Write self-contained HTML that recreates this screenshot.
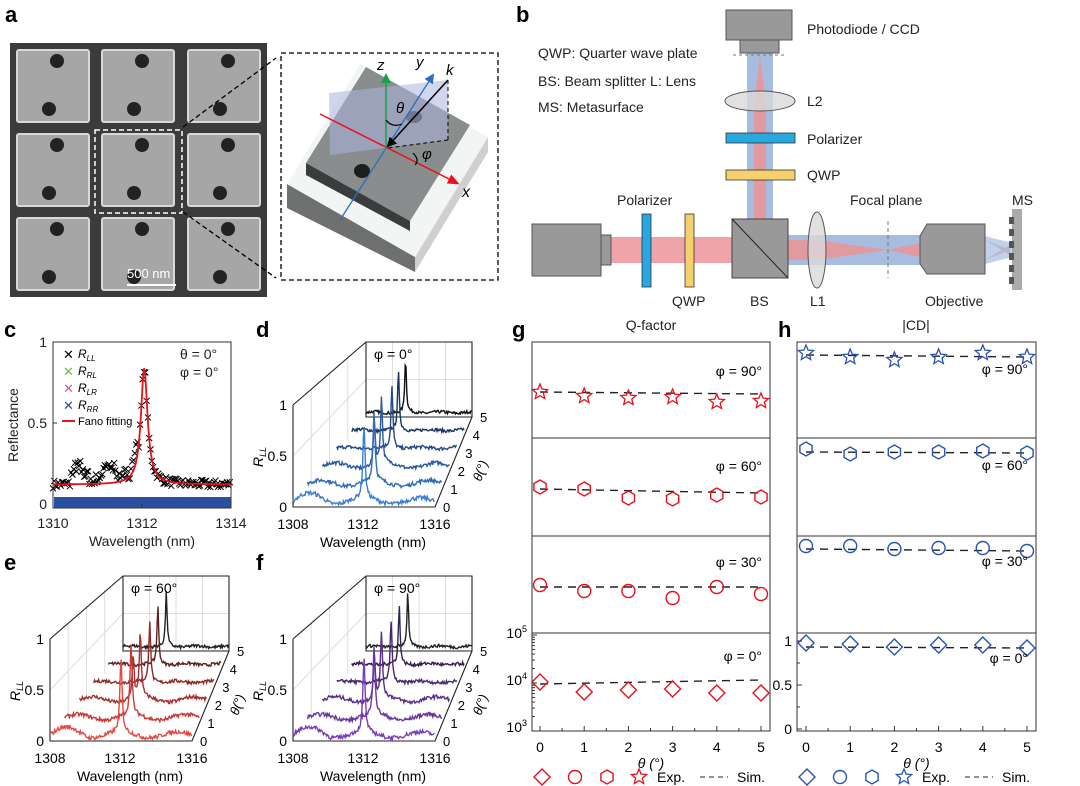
<!DOCTYPE html>
<html><head><meta charset="utf-8">
<style>
html,body{margin:0;padding:0;background:#fff;}
svg{display:block;font-family:"Liberation Sans",Arial,sans-serif;}
.L{font-weight:bold;font-size:22px;}
.t{font-size:14px;fill:#222;}
.tk{font-size:14px;fill:#222;}
</style></head>
<body>
<svg id="s" width="1080" height="786" viewBox="0 0 1080 786" xmlns="http://www.w3.org/2000/svg">
<defs>
<marker id="arR" markerWidth="12" markerHeight="10" refX="9" refY="5" orient="auto" markerUnits="userSpaceOnUse"><path d="M0,0 L12,5 L0,10z" fill="#e8101a"/></marker>
<marker id="arG" markerWidth="10" markerHeight="10" refX="8" refY="5" orient="auto" markerUnits="userSpaceOnUse"><path d="M0,0 L10,5 L0,10z" fill="#1aa04a"/></marker>
<marker id="arB" markerWidth="10" markerHeight="10" refX="8" refY="5" orient="auto" markerUnits="userSpaceOnUse"><path d="M0,0 L10,5 L0,10z" fill="#2a6fc0"/></marker>
<marker id="arK" markerWidth="10" markerHeight="10" refX="8" refY="5" orient="auto" markerUnits="userSpaceOnUse"><path d="M0,0 L10,5 L0,10z" fill="#000"/></marker>
</defs>

<text class="L" x="5" y="22">a</text>
<text class="L" x="516" y="22">b</text>
<text class="L" x="4" y="337">c</text>
<text class="L" x="256" y="337">d</text>
<text class="L" x="4" y="570">e</text>
<text class="L" x="256" y="570">f</text>
<text class="L" x="512" y="337">g</text>
<text class="L" x="778" y="337">h</text>

<rect x="10" y="43" width="257" height="254" fill="#3b3b3b"/>
<g id="sem"></g>
<rect x="95" y="130" width="87" height="83" fill="none" stroke="#fff" stroke-width="1.5" stroke-dasharray="5,3"/>
<line x1="127" y1="285" x2="176" y2="285" stroke="#fff" stroke-width="2"/>
<text x="127" y="278" font-size="13" fill="#fff">500 nm</text>
<line x1="183" y1="127" x2="276" y2="58" stroke="#000" stroke-width="1.3" stroke-dasharray="5,3"/>
<line x1="183" y1="212" x2="276" y2="278" stroke="#000" stroke-width="1.3" stroke-dasharray="5,3"/>
<rect x="281" y="53" width="217" height="227" fill="none" stroke="#000" stroke-width="1.3" stroke-dasharray="5,3"/>
<polygon points="287,184 415,257 415,272 287,208" fill="#6e7070"/>
<polygon points="415,257 488,137 488,152 415,272" fill="#cfcfcf"/>
<polygon points="287,184 360,64 488,137 415,257" fill="#f3f5f5"/>
<polygon points="306,163 366,67 470,125 410,221" fill="#8a8d8d"/>
<polygon points="306,163 410,221 410,231 306,175" fill="#3a3d3d"/>
<ellipse cx="414" cy="117" rx="8" ry="6" fill="#2a2a2a"/>
<ellipse cx="362" cy="171" rx="8" ry="7" fill="#1e1e1e"/>
<polygon points="329,93 448,80 448,140 330,155" fill="#a9b4e0" opacity="0.55"/>
<line x1="320" y1="114" x2="457" y2="183" stroke="#e8101a" stroke-width="1.5" marker-end="url(#arR)"/>
<line x1="340" y1="220" x2="433" y2="75" stroke="#2a6fc0" stroke-width="1.3" marker-end="url(#arB)"/>
<line x1="386" y1="148" x2="386" y2="75" stroke="#1aa04a" stroke-width="1.5" marker-end="url(#arG)"/>
<line x1="448" y1="80" x2="388" y2="146" stroke="#000" stroke-width="1.5" marker-end="url(#arK)"/>
<line x1="448" y1="80" x2="448" y2="140" stroke="#000" stroke-width="1" stroke-dasharray="4,3"/>
<line x1="448" y1="140" x2="388" y2="148" stroke="#000" stroke-width="1" stroke-dasharray="4,3"/>
<path d="M386,120 Q392,128 402,124" fill="none" stroke="#000" stroke-width="1.2"/>
<path d="M413,153 Q420,160 415,165" fill="none" stroke="#000" stroke-width="1.2"/>
<text x="377" y="70" font-size="15" font-style="italic">z</text>
<text x="416" y="67" font-size="15" font-style="italic">y</text>
<text x="446" y="75" font-size="15" font-style="italic">k</text>
<text x="396" y="113" font-size="15" font-style="italic">θ</text>
<text x="422" y="159" font-size="15" font-style="italic">φ</text>
<text x="462" y="197" font-size="16" font-style="italic">x</text>

<text class="t" x="538" y="58">QWP: Quarter wave plate</text>
<text class="t" x="538" y="86">BS: Beam splitter  L: Lens</text>
<text class="t" x="538" y="112">MS: Metasurface</text>
<rect x="747" y="53" width="26" height="168" fill="#a7bde0"/>
<rect x="754" y="105" width="12" height="116" fill="#e09aa0"/>
<polygon points="754,105 766,105 760,55" fill="#e09aa0"/>
<rect x="726" y="10" width="66" height="30" fill="#999" stroke="#555"/>
<rect x="740" y="40" width="39" height="13" fill="#999" stroke="#555"/>
<line x1="733" y1="55" x2="786" y2="55" stroke="#777" stroke-dasharray="3,3"/>
<ellipse cx="760" cy="101" rx="35" ry="10" fill="#d9d9d9" fill-opacity="0.8" stroke="#555"/>
<rect x="726" y="133" width="69" height="10" fill="#29a7df" stroke="#333" stroke-width="0.8"/>
<rect x="726" y="170" width="69" height="10" fill="#f5d06d" stroke="#333" stroke-width="0.8"/>
<text class="t" x="807" y="34">Photodiode / CCD</text>
<text class="t" x="807" y="106">L2</text>
<text class="t" x="807" y="144">Polarizer</text>
<text class="t" x="807" y="180">QWP</text>
<rect x="611" y="237" width="121" height="26" fill="#eea4a8"/>
<rect x="788" y="235" width="135" height="30" fill="#a7bde0"/>
<polygon points="788,240 817,240 888,250 817,260 788,260" fill="#e09aa0"/>
<polygon points="888,250 920,243 920,257" fill="#e09aa0"/>
<polygon points="985,240 1010,250 985,260 1010,245 1010,255" fill="#e8a0a8"/>
<polygon points="985,236 1012,243 1012,257 985,264" fill="#a7bde0" opacity="0.7"/>
<rect x="532" y="224" width="69" height="52" fill="#999" stroke="#555"/>
<rect x="601" y="235" width="10" height="30" fill="#999" stroke="#555"/>
<rect x="642" y="214" width="9" height="73" fill="#29a7df" stroke="#333" stroke-width="0.8"/>
<rect x="685" y="214" width="9" height="73" fill="#f5d06d" stroke="#333" stroke-width="0.8"/>
<rect x="732" y="219" width="56" height="59" fill="#999" stroke="#444"/>
<line x1="732" y1="219" x2="788" y2="278" stroke="#222"/>
<ellipse cx="817" cy="250" rx="9" ry="38" fill="#d9d9d9" fill-opacity="0.8" stroke="#555"/>
<line x1="888" y1="221" x2="888" y2="278" stroke="#777" stroke-dasharray="4,3"/>
<polygon points="920,236 927,224 985,224 985,274 927,274 920,264" fill="#999" stroke="#555"/>
<rect x="1012" y="209" width="10" height="81" fill="#aaa"/>
<g fill="#555"><rect x="1009" y="217" width="5" height="7"/><rect x="1009" y="229" width="5" height="7"/><rect x="1009" y="241" width="5" height="7"/><rect x="1009" y="253" width="5" height="7"/><rect x="1009" y="265" width="5" height="7"/><rect x="1009" y="277" width="5" height="7"/></g>
<text class="t" x="617" y="205">Polarizer</text>
<text class="t" x="850" y="205">Focal plane</text>
<text class="t" x="1012" y="205">MS</text>
<text class="t" x="672" y="306">QWP</text>
<text class="t" x="750" y="306">BS</text>
<text class="t" x="810" y="306">L1</text>
<text class="t" x="925" y="306">Objective</text>

<rect x="54" y="497" width="177" height="11" fill="#2a4fa0"/>
<g id="cx"></g>
<path id="fano" fill="none" stroke="#e8101a" stroke-width="1.8"/>
<rect x="53" y="342" width="178" height="166" fill="none" stroke="#333" stroke-width="1"/>
<g class="tk" text-anchor="end"><text x="47" y="347">1</text><text x="47" y="428">0.5</text><text x="47" y="509">0</text></g>
<g stroke="#333"><line x1="53" y1="423" x2="57" y2="423"/><line x1="142" y1="508" x2="142" y2="504"/></g>
<g class="tk" text-anchor="middle"><text x="53" y="528">1310</text><text x="142" y="528">1312</text><text x="231" y="528">1314</text></g>
<text class="tk" x="142" y="546" text-anchor="middle">Wavelength (nm)</text>
<text class="tk" transform="translate(18,425) rotate(-90)" text-anchor="middle">Reflectance</text>
<g font-size="13">
<text x="63" y="359" fill="#000">✕</text><text x="78" y="358" font-style="italic" font-size="12">R<tspan font-size="8" dy="3">LL</tspan></text>
<text x="63" y="376" fill="#6ac23c">✕</text><text x="78" y="375" font-style="italic" font-size="12">R<tspan font-size="8" dy="3">RL</tspan></text>
<text x="63" y="393" fill="#c45ab8">✕</text><text x="78" y="392" font-style="italic" font-size="12">R<tspan font-size="8" dy="3">LR</tspan></text>
<text x="63" y="410" fill="#2a4fa0">✕</text><text x="78" y="409" font-style="italic" font-size="12">R<tspan font-size="8" dy="3">RR</tspan></text>
<line x1="62" y1="421" x2="75" y2="421" stroke="#e8101a" stroke-width="2"/><text x="78" y="425" font-size="11">Fano fitting</text>
</g>
<text class="tk" x="180" y="359">θ = 0°</text>
<text class="tk" x="180" y="377">φ = 0°</text>

<g id="p3d"></g>
<g id="gh"></g>
<text class="tk" x="651" y="330" text-anchor="middle">Q-factor</text>
<text class="tk" x="916" y="330" text-anchor="middle">|CD|</text>
</svg>
<script>
var s=document.getElementById('s');var NS='http://www.w3.org/2000/svg';
function el(t,a,p){var e=document.createElementNS(NS,t);for(var k in a)e.setAttribute(k,a[k]);(p||s).appendChild(e);return e;}
function tx(x,y,str,a){a=a||{};a.x=x;a.y=y;if(!a['font-size'])a['font-size']=14;var e=el('text',a);e.textContent=str;return e;}
var seed=7;function rnd(){seed=(seed*16807)%2147483647;return seed/2147483647;}
var sem=document.getElementById('sem');
[17,102,188].forEach(function(x){[50,134,218].forEach(function(y){
 el('rect',{x:x,y:y,width:72,height:72,fill:'#a6a6a6',stroke:'#d8d8d8','stroke-width':2,rx:2},sem);
 el('circle',{cx:x+40,cy:y+11,r:7,fill:'#222'},sem);
 el('circle',{cx:x+32,cy:y+59,r:7,fill:'#222'},sem);
});});
var cg=document.getElementById('cx');var d='';
function fano(w){var g=0.09;return 0.12+0.72/(1+Math.pow((w-1312.05)/g,2));}
var fd='';
for(var i=0;i<=178;i++){var w=1310+i/178*4;var y=508-4-fano(w)*162;fd+=(i?'L':'M')+(53+i)+','+y.toFixed(1);}
document.getElementById('fano').setAttribute('d',fd);
for(var i=0;i<=178;i+=1.3){var w=1310+i/178*4;var v=fano(w)+(rnd()-0.5)*0.05;
 if(w>1310.4&&w<1311.9)v+=0.06*rnd()+0.04*Math.sin(w*9)+0.03;
 var x=53+i,y=504-v*162;d+='M'+(x-3)+','+(y-3)+'l6,6M'+(x+3)+','+(y-3)+'l-6,6';}
el('path',{d:d,stroke:'#000','stroke-width':1,fill:'none'},cg);
var P=document.getElementById('p3d');
function panel(ox,oy,label,cols,peaks){
 var fx=ox,fy=oy;
 var bx=fx+73,by=fy-90;
 for(var j=1;j<=3;j++){var xx=bx+j*26.5;el('line',{x1:xx,y1:by,x2:xx,y2:by-75,stroke:'#ddd'},P);}
 el('line',{x1:bx,y1:by-37.5,x2:bx+106,y2:by-37.5,stroke:'#ddd'},P);
 el('line',{x1:fx,y1:fy-51,x2:bx,y2:by-37.5,stroke:'#ddd'},P);
 for(var j=1;j<=3;j++){var ax=fx+j*73/4,ay=fy-j*90/4;el('line',{x1:ax,y1:ay,x2:ax,y2:ay-102+j*6,stroke:'#ddd'},P);}
 el('path',{d:'M'+fx+','+(fy-102)+'L'+bx+','+(by-75)+'L'+(bx+106)+','+(by-75)+'L'+(bx+106)+','+by+'L'+bx+','+by+'L'+bx+','+(by-75)+'M'+fx+','+(fy-102)+'L'+fx+','+fy+'L'+(fx+142)+','+fy+'L'+(bx+106)+','+by,fill:'none',stroke:'#222','stroke-width':1.1},P);
 for(var k=5;k>=0;k--){
  var x0=fx+k*14.6,y0=fy-k*18,w=142-k*7.2,pd='';
  var sc=102*(1-k*0.053);
  for(var i=0;i<=w;i+=0.8){var r=i/w*142;
   var v=0.06+(rnd()-0.5)*0.04+(k<3?0.03*Math.sin(r/9):0.01*Math.sin(r/7));
   if(k==0&&r<70)v+=0.05*Math.max(0,Math.sin(r/12));
   var pk=peaks[k];v+=0.72/(1+Math.pow((r-pk)/1.3,2));
   if(k==2)v+=0.5/(1+Math.pow((r-pk+8)/1.2,2));
   pd+=(i?'L':'M')+(x0+i).toFixed(1)+','+(y0-v*sc).toFixed(1);}
  el('path',{d:pd,fill:'none',stroke:cols[k],'stroke-width':1.4},P);
  tx(fx+150+k*7.4,fy-k*18+5,''+k,{'font-size':13});
 }
 tx(fx-6,fy+5,'0',{'text-anchor':'end'});tx(fx-6,fy-46,'0.5',{'text-anchor':'end'});tx(fx-6,fy-97,'1',{'text-anchor':'end'});
 tx(fx,fy+22,'1308',{'text-anchor':'middle'});tx(fx+70,fy+22,'1312',{'text-anchor':'middle'});tx(fx+142,fy+22,'1316',{'text-anchor':'middle'});
 tx(fx+80,fy+40,'Wavelength (nm)',{'text-anchor':'middle'});
 var t=tx(0,0,'',{transform:'translate('+(fx-30)+','+(fy-40)+') rotate(-90)','font-style':'italic'});t.innerHTML='R<tspan font-size="9" dy="3">LL</tspan>';
 tx(0,0,'θ(°)',{transform:'translate('+(fx+188)+','+(fy-25)+') rotate(-70)','font-size':13,'font-style':'italic'});
 tx(bx+8,by-58,label,{'font-size':14});
}
panel(293,507,'φ = 0°',['#3a7fd0','#2f6bb8','#285aa0','#1f4a85','#1a3560','#111'],[71,70,66,65,59,53]);
panel(50,741,'φ = 60°',['#e8473f','#c93a36','#a8302e','#8a2a2a','#5e2020','#222'],[71,70,68,66,62,58]);
panel(293,741,'φ = 90°',['#7a3db8','#6a35a0','#5a2d88','#4a2870','#352050','#222'],[71,70,66,64,60,56]);
var G=document.getElementById('gh');
function star(x,y,r){var p='';for(var i=0;i<10;i++){var a=-Math.PI/2+i*Math.PI/5,rr=i%2?r*0.45:r;p+=(i?'L':'M')+(x+rr*Math.cos(a)).toFixed(1)+','+(y+rr*Math.sin(a)).toFixed(1);}return p+'Z';}
function hexp(x,y,r){var p='';for(var i=0;i<6;i++){var a=-Math.PI/2+i*Math.PI/3;p+=(i?'L':'M')+(x+r*Math.cos(a)).toFixed(1)+','+(y+r*Math.sin(a)).toFixed(1);}return p+'Z';}
function mk(type,x,y,c){if(type==0)el('path',{d:'M'+x+','+(y-8)+'L'+(x+8)+','+y+'L'+x+','+(y+8)+'L'+(x-8)+','+y+'Z',fill:'none',stroke:c,'stroke-width':1.4},G);
 else if(type==1)el('circle',{cx:x,cy:y,r:6.5,fill:'none',stroke:c,'stroke-width':1.4},G);
 else if(type==2)el('path',{d:hexp(x,y,7),fill:'none',stroke:c,'stroke-width':1.4},G);
 else el('path',{d:star(x,y,8),fill:'none',stroke:c,'stroke-width':1.3},G);}
function box(x0,x1,X0,X5,rows,c){
 el('rect',{x:x0,y:342,width:x1-x0,height:389,fill:'none',stroke:'#333'},G);
 [438,536,633].forEach(function(y){el('line',{x1:x0,y1:y,x2:x1,y2:y,stroke:'#333'},G);});
 for(var i=0;i<=10;i++){var x=X0+i*(X5-X0)/10;el('line',{x1:x,y1:731,x2:x,y2:i%2?728:726,stroke:'#333'},G);}
 for(var i=0;i<=5;i++)tx(X0+i*(X5-X0)/5,752,''+i,{'text-anchor':'middle'});
 tx((x0+x1)/2,768,'θ (°)',{'text-anchor':'middle','font-style':'italic'});
 var types=[3,2,1,0],labs=['φ = 90°','φ = 60°','φ = 30°','φ = 0°'];
 rows.forEach(function(r,ri){
  el('line',{x1:X0,y1:r.l[0],x2:X5,y2:r.l[1],stroke:'#222','stroke-width':1.4,'stroke-dasharray':'8,6'},G);
  r.m.forEach(function(y,i){mk(types[ri],X0+i*(X5-X0)/5,y,c);});
  tx(x1-8,r.t,labs[ri],{'text-anchor':'end'});
 });
 var ly=777;mk(0,x0+10,ly,c);mk(1,x0+43,ly,c);mk(2,x0+75,ly,c);mk(3,x0+107,ly,c);
 tx(x0+125,ly+5,'Exp.');el('line',{x1:x0+168,y1:ly,x2:x0+196,y2:ly,stroke:'#222','stroke-dasharray':'5,4'},G);tx(x0+205,ly+5,'Sim.');
}
box(532,770,540,761,[{l:[392,394],m:[392,396,398,397,402,401],t:376},{l:[489,493],m:[487,489,498,499,495,497],t:471},{l:[587,587],m:[585,591,591,598,587,594],t:567},{l:[684,680],m:[682,692,690,689,693,693],t:661}],'#e8101a');
box(797,1036,806,1027,[{l:[355,357],m:[353,357,360,357,353,357],t:374},{l:[452,453],m:[449,454,452,452,451,453],t:470},{l:[549,551],m:[546,546,549,548,548,551],t:566},{l:[647,648],m:[643,644,647,645,645,648],t:663}],'#2a52b0');
var t=tx(527,638,'',{'text-anchor':'end'});t.innerHTML='10<tspan font-size="9" dy="-6">5</tspan>';
t=tx(527,685,'',{'text-anchor':'end'});t.innerHTML='10<tspan font-size="9" dy="-6">4</tspan>';
t=tx(527,732,'',{'text-anchor':'end'});t.innerHTML='10<tspan font-size="9" dy="-6">3</tspan>';
for(var dec=0;dec<2;dec++)for(var m=1;m<=10;m++){var y=731-dec*48-Math.log10(m)*48;el('line',{x1:532,y1:y,x2:m==1||m==10?537:535,y2:y,stroke:'#333'},G);}
tx(792,646,'1',{'text-anchor':'end'});tx(792,690,'0.5',{'text-anchor':'end'});tx(792,734,'0',{'text-anchor':'end'});
[641,663,685,707,729].forEach(function(y,i){el('line',{x1:797,y1:y,x2:i%2?800:802,y2:y,stroke:'#333'},G);});
</script>
</body></html>
